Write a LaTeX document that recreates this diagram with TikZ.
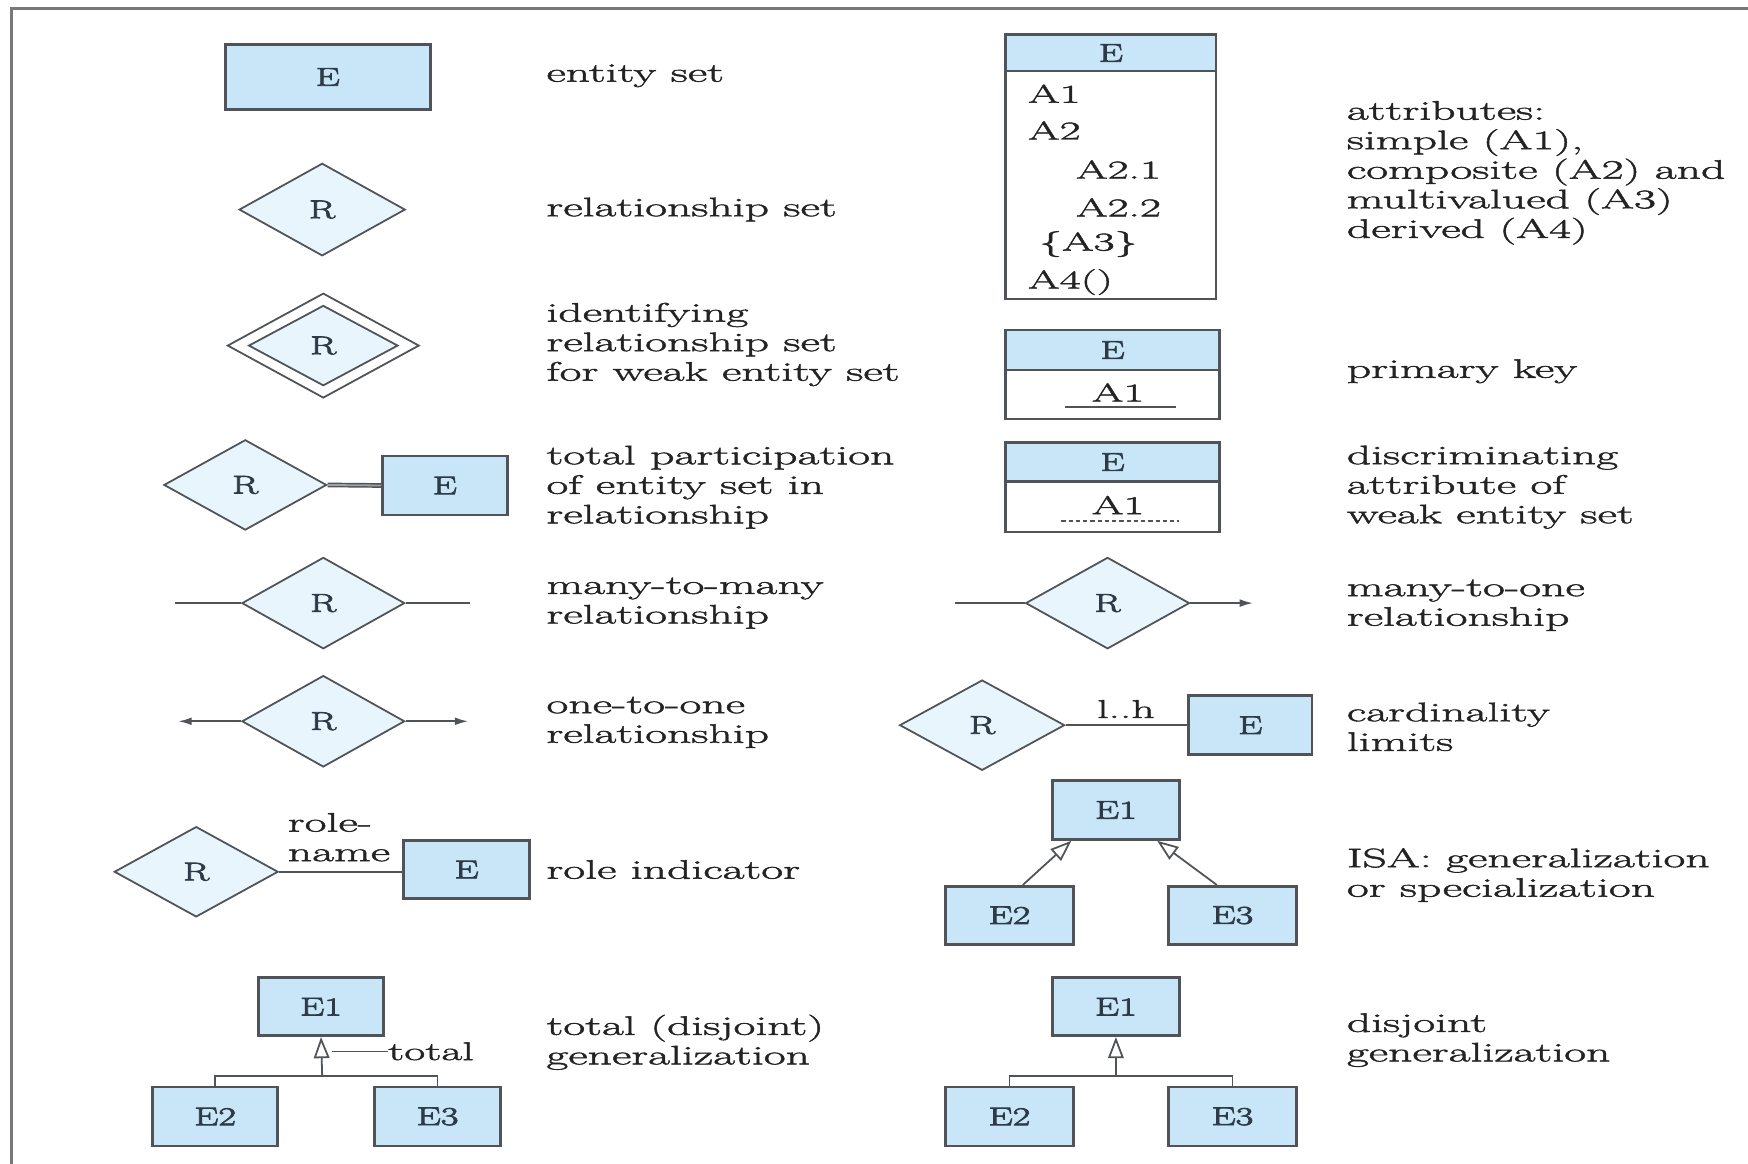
\documentclass[tikz,border=0pt]{standalone}
\usepackage{fontspec}
\setmainfont{Latin Modern Roman}[FakeStretch=1.78,FakeBold=1.8]
\newfontfamily\boxfam{Latin Modern Roman}[FakeStretch=1.5,FakeBold=3]
\usetikzlibrary{shapes.geometric,arrows.meta}

\definecolor{entfill}{RGB}{200,230,248}
\definecolor{relfill}{RGB}{232,245,252}
\definecolor{linecol}{RGB}{80,84,88}
\definecolor{framecol}{RGB}{120,120,120}
\definecolor{boxtext}{RGB}{45,58,72}
\definecolor{lbltext}{RGB}{35,35,35}

\newcommand{\lblfont}{\fontsize{24}{26.5}\selectfont}
\newcommand{\boxfont}{\boxfam\fontsize{23}{26}\selectfont}
\newcommand{\attrfont}{\fontsize{23}{26}\selectfont}

\tikzset{
  ent/.style={rectangle, draw=linecol, line width=2.4pt, fill=entfill,
              inner sep=0pt, font=\boxfont, text=boxtext},
  attrbody/.style={rectangle, draw=linecol, line width=2pt, fill=white, inner sep=0pt},
  attrhead/.style={rectangle, draw=linecol, line width=2pt, fill=entfill,
              inner sep=0pt, font=\boxfont, text=boxtext},
  rel/.style={diamond, draw=linecol, line width=1.6pt, fill=relfill,
              inner sep=0pt, font=\boxfont, text=boxtext},
  attr/.style={anchor=west, inner sep=0pt, font=\attrfont, text=lbltext},
  lbl/.style={anchor=west, align=left, inner sep=0pt, font=\lblfont, text=lbltext},
  conn/.style={draw=linecol, line width=1.6pt},
  onetip/.style={-{Latex[length=12pt,width=7pt]}},
  isatip/.style={-{Triangle[open,length=19pt,width=14pt,line width=1.6pt]}},
}

\begin{document}
\begin{tikzpicture}[x=1pt,y=-1pt]
\useasboundingbox (0,0) rectangle (1568,1044);

% outer frame (left and top edges)
\draw[framecol, line width=2.8pt] (10.5,1044) -- (10.5,7.5) -- (1568,7.5);

% ---------------- left column ----------------
% entity set
\node[ent, minimum width=184, minimum height=58] (ent) at (294,69) {E};
\node[lbl] (lent) at (490,68) {entity set};

% relationship set
\node[rel, minimum width=149, minimum height=83] (rel) at (289,188) {R};
\node[lbl] (lrel) at (490,188) {relationship set};

% identifying relationship set
\node[rel, fill=white, minimum width=172, minimum height=94] (idro) at (290,310) {};
\node[rel, minimum width=134, minimum height=72] (idri) at (290,310) {R};
\node[lbl] (lid) at (490,309) {identifying\\relationship set\\for weak entity set};

% total participation
\node[rel, minimum width=146, minimum height=81] (tpr) at (220,435) {R};
\node[ent, minimum width=112, minimum height=53] (tpe) at (399,435.5) {E};
\draw[conn, line width=1.3pt, double=linecol!55, double distance=1.6pt] (tpr.east) -- (tpe.west);
\node[lbl] (ltp) at (490,437) {total participation\\of entity set in\\relationship};

% many-to-many
\node[rel, minimum width=146, minimum height=82] (mmr) at (290,541) {R};
\coordinate (mmL) at (157,541);
\coordinate (mmR) at (422,541);
\draw[conn] (mmL) -- (mmr.west);
\draw[conn] (mmr.east) -- (mmR);
\node[lbl] (lmm) at (490,541) {many-to-many\\relationship};

% one-to-one
\node[rel, minimum width=146, minimum height=82] (oor) at (290,647) {R};
\coordinate (ooL) at (160,647);
\coordinate (ooR) at (420,647);
\draw[conn, onetip] (oor.west) -- (ooL);
\draw[conn, onetip] (oor.east) -- (ooR);
\node[lbl] (loo) at (490,648) {one-to-one\\relationship};

% role indicator
\node[rel, minimum width=147, minimum height=81] (rir) at (176,782) {R};
\node[ent, minimum width=113, minimum height=52] (rie) at (418.5,780) {E};
\draw[conn] (rir.east) -- (rir.east -| rie.west);
\node[lbl] (rname) at (258,751) {role-\\name};
\node[lbl] (lri) at (490,780) {role indicator};

% total (disjoint) generalization
\node[ent, minimum width=112, minimum height=52] (tg1) at (288,903) {E1};
\node[ent, minimum width=112, minimum height=53] (tg2) at (193,1001.5) {E2};
\node[ent, minimum width=113, minimum height=53] (tg3) at (392.5,1001.5) {E3};
\coordinate (tgj) at (289,965);
\draw[conn, isatip] (tgj) -- (tg1.south);
\draw[conn] (tg2.north) -- (tg2.north |- tgj) -- (tg3.north |- tgj) -- (tg3.north);
\node[lbl, font=\fontsize{23}{26}\selectfont] (ttot) at (348,943) {total};
\coordinate (ttl) at (298,943);
\draw[draw=linecol, line width=0.8pt] (ttl) -- (ttot.west);
\node[lbl] (ltg) at (490,935) {total (disjoint)\\generalization};

% ---------------- right column ----------------
% attributes
\node[attrbody, minimum width=189, minimum height=237] (atb) at (996.5,149.5) {};
\node[attrhead, minimum width=189, minimum height=33] (ath) at (996.5,47.5) {E};
\node[attr] (a1)  at (922,84)  {A1};
\node[attr] (a2)  at (922,117) {A2};
\node[attr] (a21) at (965,152) {A2.1};
\node[attr] (a22) at (965,186) {A2.2};
\node[attr] (a3)  at (932,219) {\{A3\}};
\node[attr] (a4)  at (922,253) {A4()};
\node[lbl] (lat) at (1208,155) {attributes:\\simple (A1),\\composite (A2) and\\multivalued (A3)\\derived (A4)};

% primary key
\node[attrbody, minimum width=192, minimum height=80] (pkb) at (998,336) {};
\node[attrhead, minimum width=192, minimum height=36] (pkh) at (998,314) {E};
\node[attr, anchor=center] (pka) at (1003,352) {A1};
\coordinate (pku1) at (955,365);
\coordinate (pku2) at (1055,365);
\draw[draw=linecol, line width=1.8pt] (pku1) -- (pku2);
\node[lbl] (lpk) at (1208,333) {primary key};

% discriminating attribute
\node[attrbody, minimum width=192, minimum height=80] (dab) at (998,437) {};
\node[attrhead, minimum width=192, minimum height=35] (dah) at (998,414.5) {E};
\node[attr, anchor=center] (daa) at (1003,453) {A1};
\coordinate (dau1) at (952,467);
\coordinate (dau2) at (1058,467);
\draw[draw=linecol, line width=1.8pt, dash pattern=on 4pt off 2.5pt] (dau1) -- (dau2);
\node[lbl] (lda) at (1208,437) {discriminating\\attribute of\\weak entity set};

% many-to-one
\node[rel, minimum width=147, minimum height=82] (mor) at (993.5,541) {R};
\coordinate (moL) at (857,541);
\coordinate (moR) at (1124,541);
\draw[conn] (moL) -- (mor.west);
\draw[conn, onetip] (mor.east) -- (moR);
\node[lbl] (lmo) at (1208,543) {many-to-one\\relationship};

% cardinality limits
\node[rel, minimum width=148, minimum height=81] (clr) at (881,650.5) {R};
\node[ent, minimum width=111, minimum height=53] (cle) at (1121.5,650.5) {E};
\draw[conn] (clr.east) -- (cle.west);
\node[attr, anchor=center] (clh) at (1010,636) {l..h};
\node[lbl] (lcl) at (1208,652) {cardinality\\limits};

% ISA
\node[ent, minimum width=114, minimum height=53] (is1) at (1001,726.5) {E1};
\node[ent, minimum width=115, minimum height=52] (is2) at (905.5,821) {E2};
\node[ent, minimum width=115, minimum height=52] (is3) at (1105.5,821) {E3};
\draw[conn, isatip] ([xshift=12pt]is2.north) -- ([xshift=-40pt]is1.south);
\draw[conn, isatip] ([xshift=-14pt]is3.north) -- ([xshift=37pt]is1.south);
\node[lbl] (lis) at (1208,785) {ISA: generalization\\or specialization};

% disjoint generalization
\node[ent, minimum width=114, minimum height=52] (dg1) at (1001,903) {E1};
\node[ent, minimum width=115, minimum height=53] (dg2) at (905.5,1001.5) {E2};
\node[ent, minimum width=115, minimum height=53] (dg3) at (1105.5,1001.5) {E3};
\coordinate (dgj) at (1001,965);
\draw[conn, isatip] (dgj) -- (dg1.south);
\draw[conn] (dg2.north) -- (dg2.north |- dgj) -- (dg3.north |- dgj) -- (dg3.north);
\node[lbl] (ldg) at (1208,933) {disjoint\\generalization};

\end{tikzpicture}
\end{document}
